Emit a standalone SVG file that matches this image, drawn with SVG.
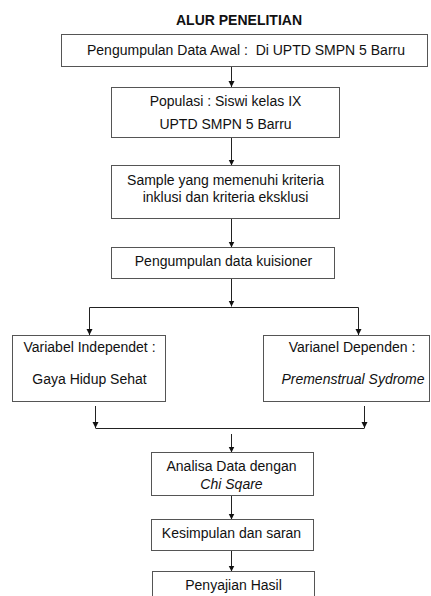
<svg xmlns="http://www.w3.org/2000/svg" width="431" height="596" viewBox="0 0 431 596">
<style>
.box{fill:#fff;stroke:#555;stroke-width:1}
.t{font-family:"Liberation Sans",Arial,sans-serif;font-size:14px;fill:#111;text-anchor:middle;white-space:pre}
.i{font-style:italic}
.title{font-weight:bold}
.c{fill:none;stroke:#222;stroke-width:1}
</style>
<defs>
<marker id="ah" markerUnits="userSpaceOnUse" markerWidth="7" markerHeight="7" refX="6" refY="3" orient="auto">
<path d="M0,0 L6,3 L0,6 z" fill="#111"/>
</marker>
</defs>
<rect width="431" height="596" fill="#fff"/>
<text class="t title" x="239" y="25">ALUR PENELITIAN</text>
<g id="connectors">
<line class="c" x1="231.5" y1="67" x2="231.5" y2="87" marker-end="url(#ah)"/>
<line class="c" x1="231.5" y1="138" x2="231.5" y2="165.5" marker-end="url(#ah)"/>
<line class="c" x1="231.5" y1="219" x2="231.5" y2="247.5" marker-end="url(#ah)"/>
<line class="c" x1="231.5" y1="279" x2="231.5" y2="306.5" marker-end="url(#ah)"/>
<line class="c" x1="89.5" y1="307.5" x2="358.5" y2="307.5"/>
<line class="c" x1="89.5" y1="307.5" x2="89.5" y2="335" marker-end="url(#ah)"/>
<line class="c" x1="358.5" y1="307.5" x2="358.5" y2="335" marker-end="url(#ah)"/>
<line class="c" x1="95.5" y1="406" x2="95.5" y2="428" marker-end="url(#ah)"/>
<line class="c" x1="364.5" y1="406" x2="364.5" y2="428" marker-end="url(#ah)"/>
<line class="c" x1="95.5" y1="428.5" x2="364.5" y2="428.5"/>
<line class="c" x1="231.5" y1="434" x2="231.5" y2="452.5" marker-end="url(#ah)"/>
<line class="c" x1="231.5" y1="496" x2="231.5" y2="519.5" marker-end="url(#ah)"/>
<line class="c" x1="231.5" y1="551" x2="231.5" y2="571.5" marker-end="url(#ah)"/>
</g>
<g id="n1">
<rect class="box" x="61.5" y="34.5" width="366" height="32"/>
<text class="t" x="246" y="54.5" xml:space="preserve">Pengumpulan Data Awal :  Di UPTD SMPN 5 Barru</text>
</g>
<g id="n2">
<rect class="box" x="111.5" y="87.5" width="228" height="50"/>
<text class="t" x="225.5" y="105.5">Populasi : Siswi kelas IX</text>
<text class="t" x="225.5" y="129">UPTD SMPN 5 Barru</text>
</g>
<g id="n3">
<rect class="box" x="111.5" y="165.5" width="228" height="53"/>
<text class="t" x="225.5" y="184.5">Sample yang memenuhi kriteria</text>
<text class="t" x="225.5" y="202">inklusi dan kriteria eksklusi</text>
</g>
<g id="n4">
<rect class="box" x="111.5" y="247.5" width="223" height="31"/>
<text class="t" x="223.5" y="266">Pengumpulan data kuisioner</text>
</g>
<g id="n5">
<rect class="box" x="12.5" y="335.5" width="153" height="66"/>
<text class="t" x="89.5" y="352">Variabel Independet :</text>
<text class="t" x="89.5" y="384">Gaya Hidup Sehat</text>
</g>
<g id="n6">
<rect class="box" x="263.5" y="335.5" width="166" height="66"/>
<text class="t" x="352" y="352">Varianel Dependen :</text>
<text class="t i" x="353" y="384">Premenstrual Sydrome</text>
</g>
<g id="n7">
<rect class="box" x="151.5" y="452.5" width="162" height="43"/>
<text class="t" x="231.5" y="471">Analisa Data dengan</text>
<text class="t i" x="231.5" y="489">Chi Sqare</text>
</g>
<g id="n8">
<rect class="box" x="151.5" y="519.5" width="162" height="31"/>
<text class="t" x="231.5" y="537.5">Kesimpulan dan saran</text>
</g>
<g id="n9">
<rect class="box" x="152.5" y="571.5" width="162" height="40"/>
<text class="t" x="233.5" y="590">Penyajian Hasil</text>
</g>
</svg>
